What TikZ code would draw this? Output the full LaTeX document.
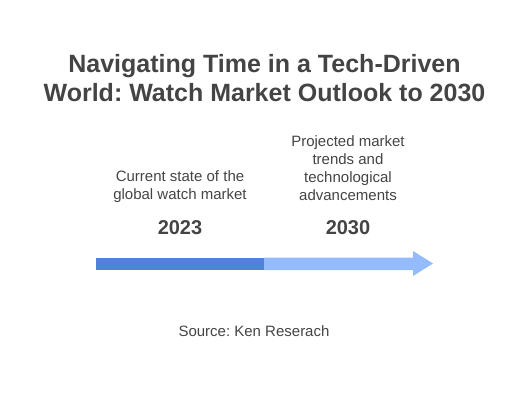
\documentclass[tikz,border=0pt]{standalone}
\usepackage{fontspec}
\setmainfont{Liberation Sans}
\frenchspacing
\definecolor{txt}{HTML}{444444}
\definecolor{darkbar}{HTML}{4F83D9}
\definecolor{lightbar}{HTML}{94BBFC}
\begin{document}
\begin{tikzpicture}[x=1pt,y=-1pt,
  titletext/.style={font=\bfseries\fontsize{25}{29}\selectfont,text=txt,align=center},
  desc/.style={font=\fontsize{15}{18}\selectfont,text=txt,align=center},
  year/.style={font=\bfseries\fontsize{20}{22}\selectfont,text=txt},
  src/.style={font=\fontsize{15}{18}\selectfont,text=txt}]
\useasboundingbox (0,0) rectangle (528,393);
\node[titletext] (title) at (264.5,78) {Navigating Time in a Tech-Driven\\World: Watch Market Outlook to 2030};
\node[desc] (d1) at (180,186.5) {Current state of the\\global watch market};
\node[desc] (d2) at (348,168.5) {Projected market\\trends and\\technological\\advancements};
\node[year] (y1) at (180,228) {2023};
\node[year] (y2) at (348,228) {2030};
\fill[lightbar] (264,257.5) -- (413,257.5) -- (413,251) -- (433,263.5) -- (413,276) -- (413,270) -- (264,270) -- cycle;
\fill[darkbar] (96,257.5) rectangle (264,270);
\node[src] (s) at (254,331) {Source: Ken Reserach};
\end{tikzpicture}
\end{document}
